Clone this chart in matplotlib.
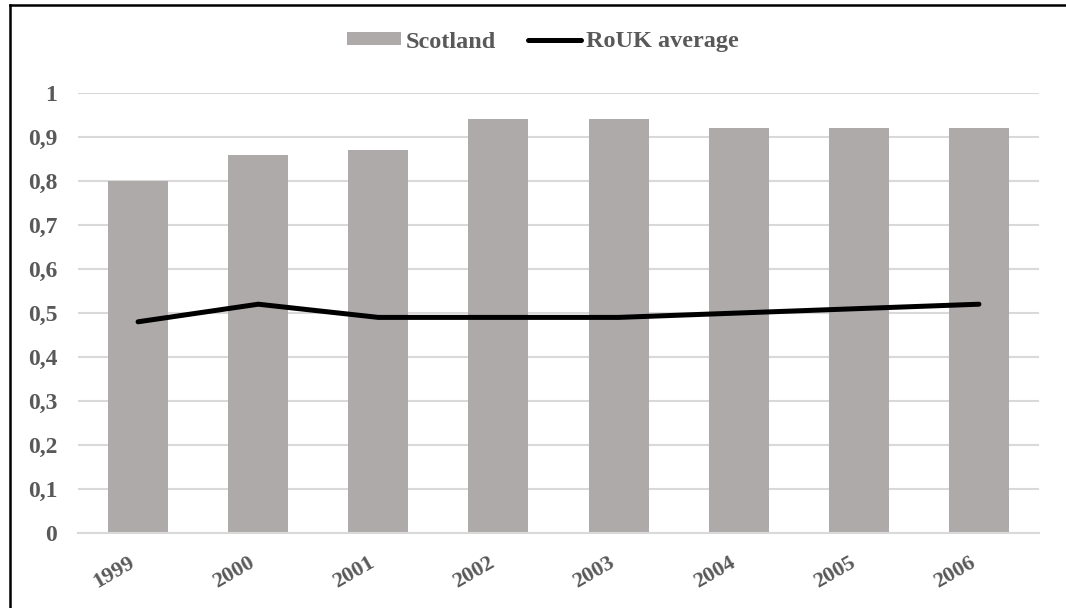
import matplotlib.pyplot as plt
from matplotlib.lines import Line2D
from matplotlib.ticker import FuncFormatter

years = ["1999", "2000", "2001", "2002", "2003", "2004", "2005", "2006"]
scotland = [0.80, 0.86, 0.87, 0.94, 0.94, 0.92, 0.92, 0.92]
rouk_average = [0.48, 0.52, 0.49, 0.49, 0.49, 0.50, 0.51, 0.52]
y_ticks = [0, 0.1, 0.2, 0.3, 0.4, 0.5, 0.6, 0.7, 0.8, 0.9, 1.0]

TEXT = "#595959"
BAR = "#aeaaaa"
GRID = "#d9d9d9"

plt.rcParams.update({
    "font.family": ["Liberation Serif", "DejaVu Serif"],
    "font.weight": "bold",
    "font.size": 17,
})

W, H = 1066, 608
fig = plt.figure(figsize=(W / 100, H / 100), dpi=100)
ax = fig.add_axes([78 / W, (H - 533) / H, (1039 - 78) / W, (533 - 93) / H])

x = list(range(len(years)))
bars = ax.bar(x, scotland, width=0.5, color=BAR, label="Scotland", zorder=2)
line, = ax.plot(x, rouk_average, color="black", linewidth=3.6,
                solid_capstyle="round", label="RoUK average", zorder=3)

ax.set_xlim(-0.5, len(years) - 0.5)
ax.set_ylim(0, 1)
ax.set_yticks(y_ticks)
ax.yaxis.set_major_formatter(FuncFormatter(lambda v, _: f"{v:g}".replace(".", ",")))
ax.set_xticks(x)
ax.set_xticklabels(years, rotation=30, ha="right", va="top", fontsize=16)
ax.grid(axis="y", color=GRID, linewidth=1.5, zorder=0)
for s in ["top", "right", "left"]:
    ax.spines[s].set_visible(False)
ax.spines["bottom"].set_color(GRID)
ax.spines["bottom"].set_linewidth(1.5)
ax.tick_params(axis="both", length=0, colors=TEXT)
ax.tick_params(axis="y", pad=15, labelsize=17)
ax.tick_params(axis="x", pad=14)

fig.legend(handles=[bars, line], loc="center",
           bbox_to_anchor=(543 / W, 1 - 42 / H), ncol=2, frameon=False,
           handlelength=2.2, handleheight=0.45, handletextpad=0.2,
           columnspacing=1.3, labelcolor=TEXT, fontsize=17.5)

# frame edges along the top and left of the canvas
fig.add_artist(Line2D([10 / W, 1], [1 - 5 / H, 1 - 5 / H], color="black",
                      linewidth=1.8, transform=fig.transFigure))
fig.add_artist(Line2D([10 / W, 10 / W], [0, 1 - 5 / H], color="black",
                      linewidth=1.8, transform=fig.transFigure))

fig.savefig("out.png", dpi=100, facecolor="white")
